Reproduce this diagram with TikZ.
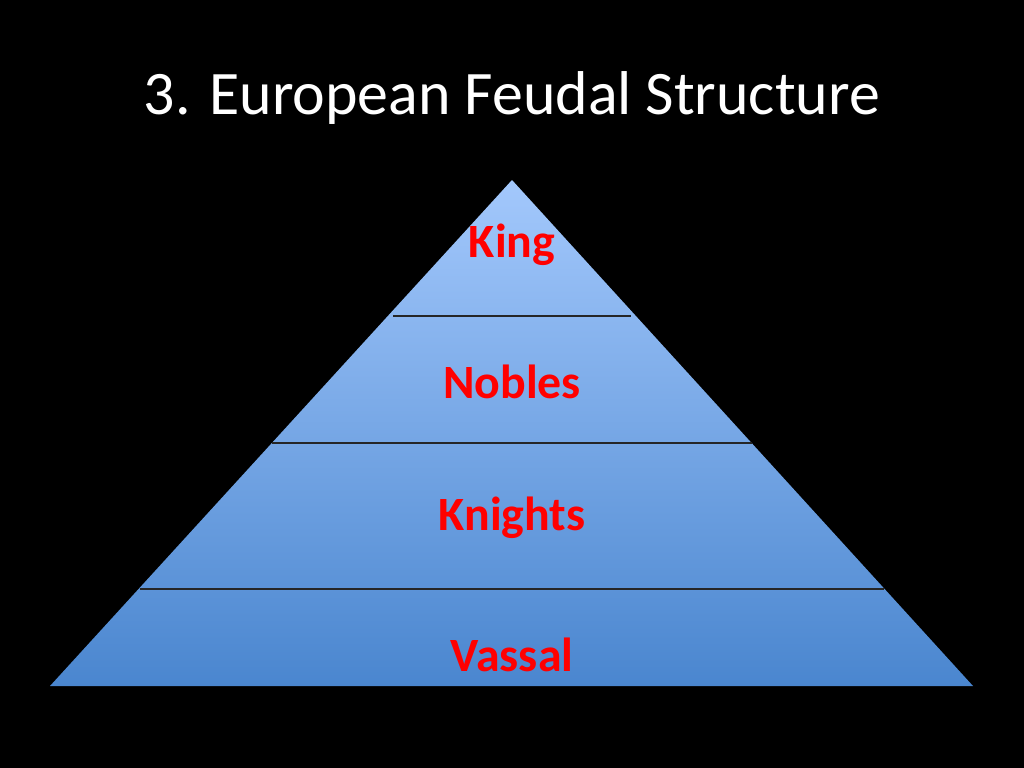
\documentclass[tikz,border=0pt]{standalone}
\usepackage{fontspec}
\setmainfont{Carlito}
\definecolor{pyrtop}{HTML}{A3C8FC}
\definecolor{pyrbot}{HTML}{4A86CF}
\definecolor{lblred}{HTML}{FF0000}
\tikzset{
  layer/.style={font=\bfseries\fontsize{34}{40}\selectfont, text=lblred},
  divider/.style={line width=2pt, black!85}
}
\begin{document}
\begin{tikzpicture}[x=0.025cm, y=-0.025cm]

  % Background
  \fill[black] (0,0) rectangle (1024,768);
  \useasboundingbox (0,0) rectangle (1024,768);

  % Title
  \node[text=white, font=\fontsize{44}{52}\selectfont] (title) at (512,98) {3. European Feudal Structure};

  % Pyramid
  \coordinate (apex) at (512,180);
  \coordinate (baseL) at (50,686);
  \coordinate (baseR) at (973,686);
  \shade[top color=pyrtop, bottom color=pyrbot] (apex) -- (baseL) -- (baseR) -- cycle;

  % Dividers
  \draw[divider] (393,316) -- (631,316);
  \draw[divider] (272,443) -- (752,443);
  \draw[divider] (140,589) -- (884,589);

  % Layer labels
  \node[layer] (king)    at (512,245) {King};
  \node[layer] (nobles)  at (512,382) {Nobles};
  \node[layer] (knights) at (512,518) {Knights};
  \node[layer] (vassal)  at (512,655) {Vassal};

\end{tikzpicture}
\end{document}
